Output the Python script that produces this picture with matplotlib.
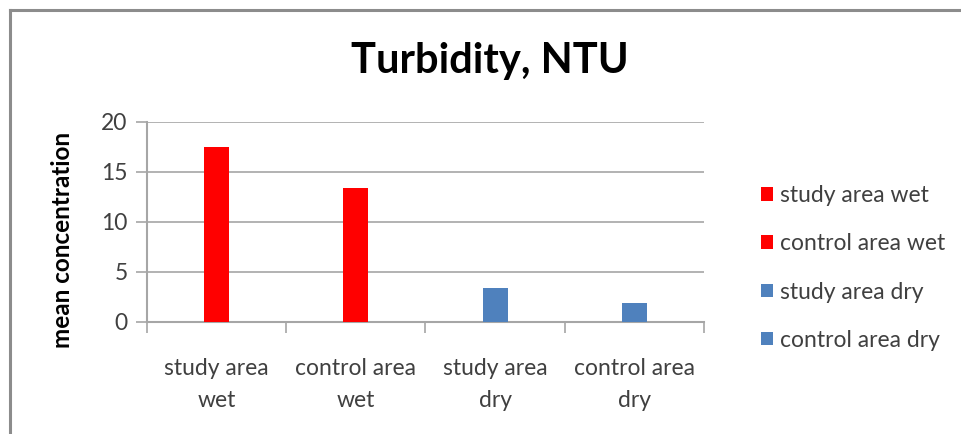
import matplotlib
matplotlib.use("Agg")
import matplotlib.pyplot as plt
from matplotlib.patches import Patch
from matplotlib.lines import Line2D

categories = ["study area\nwet", "control area\nwet", "study area\ndry", "control area\ndry"]
legend_labels = ["study area wet", "control area wet", "study area dry", "control area dry"]
values = [17.5, 13.4, 3.4, 1.9]
colors = ["#FF0000", "#FF0000", "#4F81BD", "#4F81BD"]
yticks = [0, 5, 10, 15, 20]

FONT = ["Lato", "DejaVu Sans"]
plt.rcParams["font.family"] = FONT
FS = 16.5

W, H = 961, 434
fig = plt.figure(figsize=(W / 100, H / 100), dpi=100)

L, R, T, B = 147, 704, 122, 322
ax = fig.add_axes([L / W, 1 - B / H, (R - L) / W, (B - T) / H])

x = list(range(len(categories)))
ax.bar(x, values, width=0.18, color=colors, zorder=3)
ax.set_xlim(-0.5, len(categories) - 0.5)
ax.set_ylim(0, 20)
ax.set_yticks(yticks)
ax.yaxis.grid(True, color="#A6A6A6", linewidth=1.2, zorder=0)
ax.set_axisbelow(True)

for s in ["top", "right"]:
    ax.spines[s].set_visible(False)
ax.spines["left"].set_color("#A6A6A6")
ax.spines["left"].set_linewidth(1.5)
ax.spines["bottom"].set_color("#A6A6A6")
ax.spines["bottom"].set_linewidth(1.5)

ax.tick_params(axis="y", length=8, width=1.2, color="#A6A6A6", labelsize=FS,
               labelcolor="#404040", pad=6)
# category labels at centers, ticks at boundaries
ax.set_xticks(x)
ax.set_xticklabels(categories, fontsize=FS, color="#404040", linespacing=1.62)
ax.tick_params(axis="x", length=0, pad=26)
ax.set_xticks([i - 0.5 for i in range(len(categories) + 1)], minor=True)
ax.tick_params(axis="x", which="minor", length=8, width=1.2, color="#A6A6A6")

fig.text(490 / W, 1 - 61 / H, "Turbidity, NTU", ha="center", va="center",
         fontsize=30, fontweight="bold", color="black")
fig.text(63 / W, 1 - 240 / H, "mean concentration", rotation=90, ha="center",
         va="center", fontsize=17.5, fontweight="bold", color="black")

handles = [Patch(facecolor=c, edgecolor="none") for c in colors]
fig.legend(handles, legend_labels, loc="center left",
           bbox_to_anchor=(740 / W, 1 - 268 / H), frameon=False,
           fontsize=FS, labelspacing=1.18, handlelength=0.55, handleheight=0.55,
           handletextpad=0.3, labelcolor="#404040")

# outer border
fig.add_artist(Line2D([10 / W, 1], [1 - 10 / H, 1 - 10 / H], color="#8C8C8C", linewidth=2.2,
                      transform=fig.transFigure))
fig.add_artist(Line2D([10 / W, 10 / W], [0, 1 - 10 / H], color="#8C8C8C", linewidth=2.2,
                      transform=fig.transFigure))

fig.savefig("out.png", dpi=100)
